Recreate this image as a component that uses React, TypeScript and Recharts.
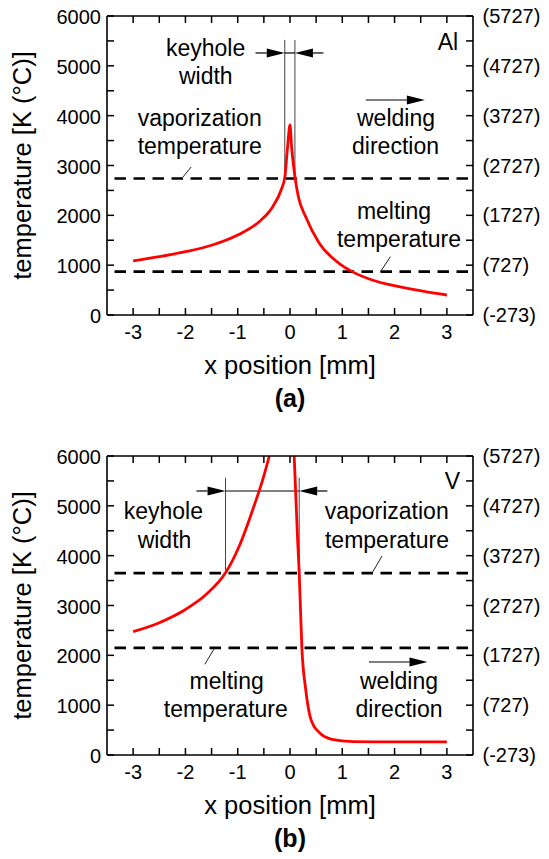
import React from 'react';
import { LineChart, Line, XAxis, YAxis, ReferenceLine } from 'recharts';

// axis ticks (minor ticks every 0.5 mm / 500 K, labels only on the majors)
const X_TICKS = [-3, -2.5, -2, -1.5, -1, -0.5, 0, 0.5, 1, 1.5, 2, 2.5, 3];
const Y_TICKS = [0, 500, 1000, 1500, 2000, 2500, 3000, 3500, 4000, 4500, 5000, 5500, 6000];
const KELVIN_OFFSET = 273;

// (a) Al: temperature profile along x
const AL_X = [-3, -2.5, -2, -1.5, -1, -0.59, -0.33, -0.17, -0.097, -0.046, 0, 0.03, 0.094, 0.16, 0.3, 0.56, 0.94, 1.19, 1.57, 2.08, 2.59, 3];
const AL_T = [1085, 1170, 1270, 1400, 1605, 1873, 2174, 2508, 2776, 3378, 3813, 3378, 2776, 2374, 1970, 1438, 1037, 870, 702, 568, 468, 401];
const AL_VAP = 2740;
const AL_MELT = 870;
const AL_KEYHOLE = [-0.1, 0.094];

// (b) V: the curve leaves the plot at the top, so two branches
const V_LEFT_X = [-3, -2.5, -2, -1.6, -1.23, -0.97, -0.71, -0.52, -0.395];
const V_LEFT_T = [2475, 2655, 2920, 3225, 3660, 4195, 4930, 5530, 6000];
const V_RIGHT_X = [0.08, 0.145, 0.176, 0.227, 0.3, 0.4, 0.56, 0.8, 1.2, 2, 3];
const V_RIGHT_T = [6000, 4330, 3660, 2150, 1320, 716, 450, 315, 270, 262, 262];
const V_VAP = 3650;
const V_MELT = 2150;
const V_KEYHOLE = [-1.233, 0.176];

const toPoints = (xs: number[], ts: number[]) => xs.map((x, i) => ({ x, t: ts[i] }));

const FONT = '"Liberation Sans", Arial, Helvetica, sans-serif';
const W = 549;
const H = 419;
const PLOT_LEFT = 107;
const PLOT_RIGHT = 473;
const PLOT_TOP = 16;
const PLOT_BOTTOM = 315;
const TICK_LEN = 7;

const isMajorX = (v: number) => Number.isInteger(v);
const isMajorY = (v: number) => v % 1000 === 0;

const BottomTick = (p: any) => {
  const v = p.payload.value;
  return (
    <g>
      <line x1={p.x} x2={p.x} y1={PLOT_BOTTOM} y2={PLOT_BOTTOM - TICK_LEN} stroke="#000" strokeWidth={1.5} />
      {isMajorX(v) && (
        <text x={p.x} y={PLOT_BOTTOM + 23.5} textAnchor="middle" fontSize={20} fontFamily={FONT} fill="#000">
          {v}
        </text>
      )}
    </g>
  );
};

const TopTick = (p: any) => (
  <line x1={p.x} x2={p.x} y1={PLOT_TOP} y2={PLOT_TOP + TICK_LEN} stroke="#000" strokeWidth={1.5} />
);

const LeftTick = (p: any) => {
  const v = p.payload.value;
  return (
    <g>
      <line x1={PLOT_LEFT} x2={PLOT_LEFT + TICK_LEN} y1={p.y} y2={p.y} stroke="#000" strokeWidth={1.5} />
      {isMajorY(v) && (
        <text x={101} y={p.y + 8} textAnchor="end" fontSize={20} fontFamily={FONT} fill="#000">
          {v}
        </text>
      )}
    </g>
  );
};

const RightTick = (p: any) => {
  const v = p.payload.value;
  return (
    <g>
      <line x1={PLOT_RIGHT} x2={PLOT_RIGHT - TICK_LEN} y1={p.y} y2={p.y} stroke="#000" strokeWidth={1.5} />
      {isMajorY(v) && (
        <text x={482.5} y={p.y + 7} textAnchor="start" fontSize={20} fontFamily={FONT} fill="#000">
          ({v - KELVIN_OFFSET})
        </text>
      )}
    </g>
  );
};

const Arrow = (p: any) => {
  const { x1, y1, x2, y2 } = p;
  const dx = x2 - x1;
  const dy = y2 - y1;
  const len = Math.hypot(dx, dy) || 1;
  const ux = dx / len;
  const uy = dy / len;
  const hl = 18;
  const hw = 4.5;
  const bx = x2 - ux * hl;
  const by = y2 - uy * hl;
  return (
    <g>
      <line x1={x1} y1={y1} x2={bx} y2={by} stroke="#000" strokeWidth={1.2} />
      <polygon
        points={`${x2},${y2} ${bx - uy * hw},${by + ux * hw} ${bx + uy * hw},${by - ux * hw}`}
        fill="#000"
      />
    </g>
  );
};

type Seg = [number, number, number, number];

interface Label {
  text: string;
  x: number;
  y: number;
}

interface PanelProps {
  series: Array<Array<{ x: number; t: number }>>;
  vap: number;
  melt: number;
  keyhole: number[];
  keyholeTop: number;
  arrowY: number;
  arrowOuter: number[];
  weld: Seg;
  slashes: Seg[];
  labels: Label[];
  caption: string;
}

function Panel({ series, vap, melt, keyhole, keyholeTop, arrowY, arrowOuter, weld, slashes, labels, caption }: PanelProps) {
  const ax = { xAxisId: 'b', yAxisId: 'l' };
  return (
    <div style={{ position: 'relative', width: W, height: H }}>
      <LineChart width={W} height={H} margin={{ top: 15, right: 0, bottom: 0, left: 0 }}>
        <XAxis
          xAxisId="b"
          type="number"
          dataKey="x"
          domain={[-3.5, 3.5]}
          allowDataOverflow
          ticks={X_TICKS}
          interval={0}
          height={H - PLOT_BOTTOM}
          tickLine={false}
          tick={BottomTick}
          axisLine={{ stroke: '#000', strokeWidth: 1.6 }}
        />
        <XAxis
          xAxisId="t"
          orientation="top"
          type="number"
          dataKey="x"
          domain={[-3.5, 3.5]}
          allowDataOverflow
          ticks={X_TICKS}
          interval={0}
          height={1}
          tickLine={false}
          tick={TopTick}
          axisLine={{ stroke: '#000', strokeWidth: 1.6 }}
        />
        <YAxis
          yAxisId="l"
          type="number"
          domain={[0, 6000]}
          allowDataOverflow
          ticks={Y_TICKS}
          interval={0}
          width={PLOT_LEFT}
          tickLine={false}
          tick={LeftTick}
          axisLine={{ stroke: '#000', strokeWidth: 1.6 }}
        />
        <YAxis
          yAxisId="r"
          orientation="right"
          type="number"
          domain={[0, 6000]}
          allowDataOverflow
          ticks={Y_TICKS}
          interval={0}
          width={W - PLOT_RIGHT}
          tickLine={false}
          tick={RightTick}
          axisLine={{ stroke: '#000', strokeWidth: 1.6 }}
        />
        <ReferenceLine {...ax} y={vap} stroke="#000" strokeWidth={2.6} strokeDasharray="11.5 7.5" strokeDashoffset={11.5} />
        <ReferenceLine {...ax} y={melt} stroke="#000" strokeWidth={2.6} strokeDasharray="11.5 7.5" strokeDashoffset={11.5} />
        {keyhole.map((k, i) => (
          <ReferenceLine key={'k' + i} {...ax} segment={[{ x: k, y: vap }, { x: k, y: keyholeTop }]} stroke="#444" strokeWidth={1} />
        ))}
        <ReferenceLine {...ax} segment={[{ x: keyhole[0], y: arrowY }, { x: keyhole[1], y: arrowY }]} stroke="#000" strokeWidth={1.2} />
        <ReferenceLine {...ax} segment={[{ x: arrowOuter[0], y: arrowY }, { x: keyhole[0], y: arrowY }]} shape={Arrow} />
        <ReferenceLine {...ax} segment={[{ x: arrowOuter[1], y: arrowY }, { x: keyhole[1], y: arrowY }]} shape={Arrow} />
        <ReferenceLine {...ax} segment={[{ x: weld[0], y: weld[1] }, { x: weld[2], y: weld[3] }]} shape={Arrow} />
        {slashes.map((s, i) => (
          <ReferenceLine key={'s' + i} {...ax} segment={[{ x: s[0], y: s[1] }, { x: s[2], y: s[3] }]} stroke="#222" strokeWidth={1} />
        ))}
        {series.map((d, i) => (
          <Line
            key={i}
            {...ax}
            data={d}
            dataKey="t"
            type="monotone"
            stroke="#ff0000"
            strokeWidth={2.8}
            dot={false}
            activeDot={false}
            isAnimationActive={false}
          />
        ))}
      </LineChart>
      <svg width={W} height={H} style={{ position: 'absolute', left: 0, top: 0, pointerEvents: 'none' }}>
        <g fontFamily={FONT} fill="#000">
          {labels.map((l, i) => (
            <text key={i} x={l.x} y={l.y} textAnchor="middle" fontSize={23}>
              {l.text}
            </text>
          ))}
          <text x={290} y={373.5} textAnchor="middle" fontSize={25.5}>
            x position [mm]
          </text>
          <text x={290} y={406.5} textAnchor="middle" fontSize={25} fontWeight="bold">
            {caption}
          </text>
          <text x={31} y={165.5} textAnchor="middle" fontSize={25.5} transform="rotate(-90 31 165.5)">
            temperature [K (°C)]
          </text>
        </g>
      </svg>
    </div>
  );
}

export default function App() {
  return (
    <div style={{ position: 'absolute', left: 0, top: 0, width: W, height: 859, background: '#fff' }}>
      <div style={{ position: 'absolute', left: 0, top: 0 }}>
        <Panel
          series={[toPoints(AL_X, AL_T)]}
          vap={AL_VAP}
          melt={AL_MELT}
          keyhole={AL_KEYHOLE}
          keyholeTop={5520}
          arrowY={5258}
          arrowOuter={[-0.66, 0.64]}
          weld={[1.45, 4314, 2.58, 4314]}
          slashes={[
            [-2.07, AL_VAP, -1.89, 2970],
            [1.73, AL_MELT, 1.92, 1170],
          ]}
          labels={[
            { text: 'keyhole', x: 205.6, y: 55.5 },
            { text: 'width', x: 205.8, y: 83.5 },
            { text: 'vaporization', x: 199.7, y: 125.5 },
            { text: 'temperature', x: 199.7, y: 154 },
            { text: 'welding', x: 396, y: 126 },
            { text: 'direction', x: 395.5, y: 154 },
            { text: 'melting', x: 394, y: 218.5 },
            { text: 'temperature', x: 399, y: 246.7 },
            { text: 'Al', x: 448, y: 50 },
          ]}
          caption="(a)"
        />
      </div>
      <div style={{ position: 'absolute', left: 0, top: 440 }}>
        <Panel
          series={[toPoints(V_LEFT_X, V_LEFT_T), toPoints(V_RIGHT_X, V_RIGHT_T)]}
          vap={V_VAP}
          melt={V_MELT}
          keyhole={V_KEYHOLE}
          keyholeTop={5565}
          arrowY={5298}
          arrowOuter={[-1.79, 0.715]}
          weld={[1.51, 1866, 2.63, 1866]}
          slashes={[
            [1.57, V_VAP, 1.76, 3993],
            [-1.44, V_MELT, -1.63, 1820],
          ]}
          labels={[
            { text: 'keyhole', x: 163.3, y: 79.3 },
            { text: 'width', x: 164.5, y: 107.7 },
            { text: 'vaporization', x: 386.7, y: 79.3 },
            { text: 'temperature', x: 387, y: 107.7 },
            { text: 'melting', x: 226.7, y: 249.3 },
            { text: 'temperature', x: 225.8, y: 277 },
            { text: 'welding', x: 399, y: 249.3 },
            { text: 'direction', x: 399, y: 277 },
            { text: 'V', x: 452.5, y: 49.3 },
          ]}
          caption="(b)"
        />
      </div>
    </div>
  );
}
